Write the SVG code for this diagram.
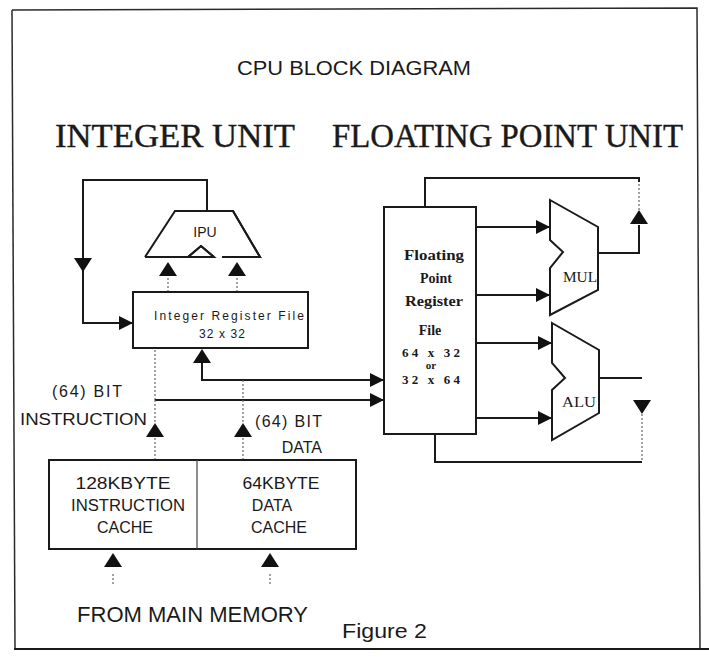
<svg xmlns="http://www.w3.org/2000/svg" xmlns:xlink="http://www.w3.org/1999/xlink" width="709" height="657" viewBox="0 0 709 657">
<defs>
<style>
.ln{stroke:#1a1a1a;stroke-width:2;fill:none;stroke-linejoin:miter}
.box{stroke:#1a1a1a;stroke-width:2;fill:#fff}
.thin{stroke:#666;stroke-width:1.2;fill:none;stroke-dasharray:2 2}
.frame{stroke:#2a2a2a;stroke-width:1.5;fill:none}
.sans{font-family:"Liberation Sans",Arial,sans-serif;fill:#1a1a1a}
.serif{font-family:"Liberation Serif","Times New Roman",serif;fill:#1a1a1a}
.tri{fill:#111}
</style>
<marker id="ah" viewBox="0 0 14 14" refX="14" refY="7" markerWidth="14" markerHeight="14" markerUnits="userSpaceOnUse" orient="auto">
<path d="M0,0 L14,7 L0,14 Z" fill="#111"/>
</marker>
<path id="up" d="M-9,7 L0,-7 L9,7 Z"/>
<path id="down" d="M-9,-7 L0,7 L9,-7 Z"/>
</defs>
<rect width="709" height="657" fill="#fff"/>

<g id="frame">
<path class="frame" d="M12,10 L697,8 L700,649"/>
<path class="frame" d="M12,10 L15,649"/>
<path class="ln" d="M14,649 L709,649"/>
</g>

<g id="titles">
<text class="sans" x="354" y="75" font-size="20" text-anchor="middle" textLength="234" lengthAdjust="spacingAndGlyphs">CPU BLOCK DIAGRAM</text>
<text class="serif" x="55" y="147" font-size="33" textLength="240" lengthAdjust="spacingAndGlyphs" stroke="#1a1a1a" stroke-width="0.4">INTEGER UNIT</text>
<text class="serif" x="332" y="147" font-size="33" textLength="351" lengthAdjust="spacingAndGlyphs" stroke="#1a1a1a" stroke-width="0.4">FLOATING POINT UNIT</text>
</g>

<g id="connectors">
<path class="ln" d="M207,212 V180 H83 V323 H133" marker-end="url(#ah)"/>
<use href="#down" class="tri" x="83" y="265"/>
<path class="thin" d="M168,292 V275"/>
<use href="#up" class="tri" x="168" y="269"/>
<path class="thin" d="M237,292 V275"/>
<use href="#up" class="tri" x="237" y="269"/>
<path class="ln" d="M202,363 V380 H384" marker-end="url(#ah)"/>
<use href="#up" class="tri" x="202" y="356"/>
<path class="thin" d="M155,350 V400"/>
<path class="ln" d="M155,400 H384" marker-end="url(#ah)"/>
<path class="thin" d="M155,400 V423 M155,438 V460"/>
<use href="#up" class="tri" x="155" y="430"/>
<path class="thin" d="M243,380 V423 M243,438 V460"/>
<use href="#up" class="tri" x="243" y="430"/>
<use href="#up" class="tri" x="113" y="560"/>
<path class="thin" d="M113,574 V586"/>
<use href="#up" class="tri" x="270" y="560"/>
<path class="thin" d="M270,574 V586"/>
<path class="ln" d="M476,227 H550" marker-end="url(#ah)"/>
<path class="ln" d="M476,295 H550" marker-end="url(#ah)"/>
<path class="ln" d="M476,343 H552" marker-end="url(#ah)"/>
<path class="ln" d="M476,418 H552" marker-end="url(#ah)"/>
<path class="ln" d="M598,253 H639 V225"/>
<use href="#up" class="tri" x="639" y="217"/>
<path class="thin" d="M639,210 V180"/>
<path class="ln" d="M639,182 V178 H425 V207"/>
<path class="ln" d="M599,378 H642"/>
<use href="#down" class="tri" x="642" y="407"/>
<path class="thin" d="M642,414 V460"/>
<path class="ln" d="M642,462 H435 V434"/>
</g>

<g id="ipu">
<path class="box" d="M175,211 L233,211 L260,257 L222,257 M214,257 L201,246 L188,257 L145,257 Z"/>
<path class="ln" d="M145,257 L175,211 L233,211 L260,257 L222,257 M214,257 L201,246 L188,257 L145,257"/>
<text class="sans" x="205" y="237" font-size="14" text-anchor="middle">IPU</text>
</g>

<g id="int-regfile">
<rect class="box" x="133" y="292" width="175" height="56"/>
<text class="sans" x="229" y="320" font-size="12" text-anchor="middle" textLength="150" lengthAdjust="spacing">Integer Register File</text>
<text class="sans" x="222" y="338" font-size="12" text-anchor="middle" textLength="46" lengthAdjust="spacing">32 x 32</text>
</g>

<g id="fp-regfile">
<rect class="box" x="384" y="207" width="92" height="227"/>
<g class="serif" font-size="14" font-weight="bold" text-anchor="middle">
<text x="434" y="260" textLength="60" lengthAdjust="spacingAndGlyphs">Floating</text>
<text x="436" y="283">Point</text>
<text x="434" y="306" textLength="58" lengthAdjust="spacingAndGlyphs">Register</text>
<text x="430" y="335">File</text>
<text x="431" y="357" font-size="13" textLength="58" lengthAdjust="spacing">64 x 32</text>
<text x="431" y="369" font-size="11">or</text>
<text x="431" y="384" font-size="13" textLength="58" lengthAdjust="spacing">32 x 64</text>
</g>
</g>

<g id="mul">
<path class="ln" d="M550,200 L598,227 L598,290 L550,315 L550,268 L563,252 L550,240 Z"/>
<text class="serif" x="580" y="282" font-size="15" text-anchor="middle" textLength="34" lengthAdjust="spacingAndGlyphs">MUL</text>
</g>

<g id="alu">
<path class="ln" d="M552,323 L599,350 L599,413 L552,440 L552,390 L565,378 L552,363 Z"/>
<text class="serif" x="579" y="407" font-size="15" text-anchor="middle" textLength="34" lengthAdjust="spacingAndGlyphs">ALU</text>
</g>

<g id="labels">
<text class="sans" x="87" y="397" font-size="16" text-anchor="middle" textLength="70" lengthAdjust="spacing">(64)  BIT</text>
<text class="sans" x="20" y="425" font-size="16" textLength="127" lengthAdjust="spacingAndGlyphs">INSTRUCTION</text>
<text class="sans" x="322" y="427" font-size="16" text-anchor="end" textLength="67" lengthAdjust="spacing">(64)  BIT</text>
<text class="sans" x="322" y="453" font-size="16" text-anchor="end">DATA</text>
<text class="sans" x="77" y="622" font-size="22" textLength="231" lengthAdjust="spacingAndGlyphs">FROM MAIN MEMORY</text>
<text class="sans" x="342" y="638" font-size="21" textLength="85" lengthAdjust="spacingAndGlyphs">Figure 2</text>
</g>

<g id="cache">
<rect class="box" x="49" y="460" width="307" height="89"/>
<g id="icache">
<path d="M197,460 V549" stroke="#444" stroke-width="1.2" fill="none"/>
<text class="sans" x="123" y="489" font-size="16" text-anchor="middle" textLength="95" lengthAdjust="spacingAndGlyphs">128KBYTE</text>
<text class="sans" x="128" y="511" font-size="16" text-anchor="middle" textLength="114" lengthAdjust="spacingAndGlyphs">INSTRUCTION</text>
<text class="sans" x="125" y="533" font-size="16" text-anchor="middle">CACHE</text>
</g>
<g id="dcache">
<text class="sans" x="281" y="489" font-size="16" text-anchor="middle" textLength="77" lengthAdjust="spacingAndGlyphs">64KBYTE</text>
<text class="sans" x="272" y="511" font-size="16" text-anchor="middle">DATA</text>
<text class="sans" x="279" y="533" font-size="16" text-anchor="middle">CACHE</text>
</g>
</g>
</svg>
